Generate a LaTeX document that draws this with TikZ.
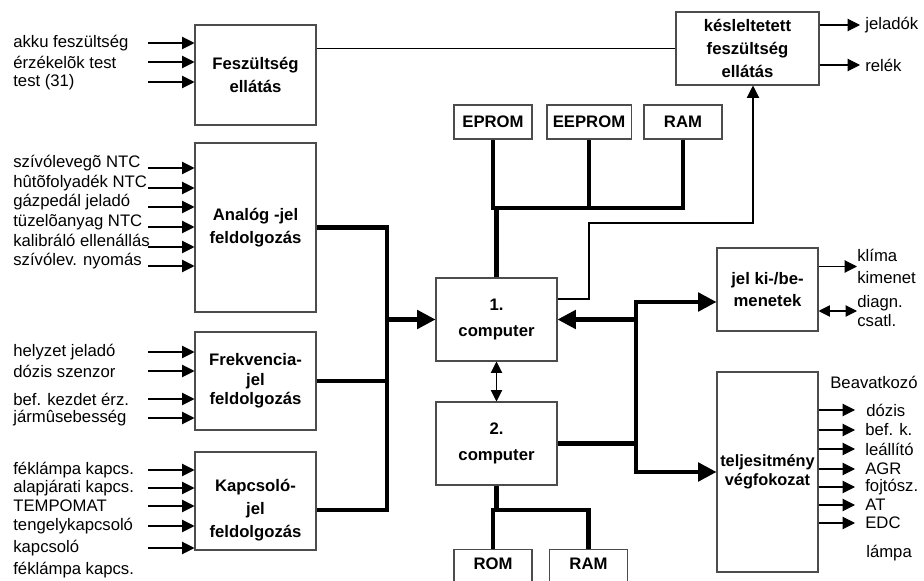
\documentclass[tikz,border=0pt]{standalone}
\usepackage{fontspec}
\setmainfont{Liberation Sans}
\usetikzlibrary{arrows.meta,calc}

\begin{document}
\begin{tikzpicture}[x=0.02cm,y=-0.02cm,
    every node/.style={font=\fontsize{9.5}{11}\selectfont},
    box/.style={draw=black!70,line width=0.6pt,align=center,font=\fontsize{9.5}{13}\selectfont\bfseries},
    membox/.style={box,anchor=north,minimum width=1.56cm,text height=7pt,text depth=14pt,inner ysep=4.5pt},
    lbl/.style={anchor=west,inner sep=0pt,align=left},
    lblb/.style={anchor=base west,inner sep=0pt},
    sig/.style={line width=0.6pt,-{Triangle[length=7pt,width=7pt]}},
    sigboth/.style={line width=0.6pt,{Triangle[length=6.5pt,width=6.5pt]}-{Triangle[length=6.5pt,width=6.5pt]}},
    bus/.style={line width=2.3pt},
    busarrow/.style={line width=2.3pt,-{Triangle[length=10.5pt,width=10.5pt]}}]
    \useasboundingbox (0,0) rectangle (924,581);

    \node[box,minimum width=2.42cm,minimum height=2cm] (fesz) at (255.5,75) {Feszültség\\ellátás};
    \node[box,minimum width=2.42cm,minimum height=3.38cm] (analog) at (255.5,227.5) {Analóg -jel\\feldolgozás};
    \node[box,minimum width=2.42cm,minimum height=1.96cm,font=\fontsize{9.5}{11}\selectfont\bfseries] (frekv) at (255.5,381) {Frekvencia-\\jel\\feldolgozás};
    \node[box,minimum width=2.42cm,minimum height=1.96cm] (kapcs) at (255.5,501) {};
    \node[align=center,font=\fontsize{9.5}{13}\selectfont\bfseries] (kapcstxt) at (255.5,510) {Kapcsoló-\\jel\\feldolgozás};

    \node[box,minimum width=2.42cm,minimum height=1.66cm,font=\fontsize{9.5}{15}\selectfont\bfseries] (comp1) at (496.5,319.5) {1.\\computer};
    \node[box,minimum width=2.42cm,minimum height=1.66cm,font=\fontsize{9.5}{15}\selectfont\bfseries] (comp2) at (496.5,443.5) {2.\\computer};

    \node[box,minimum width=1.56cm,minimum height=0.68cm] (eprom) at (493,122) {EPROM};
    \node[box,minimum width=1.64cm,minimum height=0.68cm] (eeprom) at (589,122) {EEPROM};
    \node[box,minimum width=1.56cm,minimum height=0.68cm] (ram) at (683,122) {RAM};
    \node[membox] (rom) at (493,549) {ROM};
    \node[membox] (ram2) at (588.5,549) {RAM};

    \node[box,minimum width=2.86cm,minimum height=1.46cm] (kesl) at (747.5,48.5) {késleltetett\\feszültség\\ellátás};
    \node[box,minimum width=2.02cm,minimum height=1.66cm] (jelki) at (767.5,289.5) {jel ki-/be-\\menetek};
    \node[box,minimum width=2.02cm,minimum height=4cm,inner xsep=1pt,font=\fontsize{9.3}{11}\selectfont\bfseries] (telj) at (767.5,472) {teljesitmény\\végfokozat};

    % inputs on the left
    \coordinate (tail) at (148,0);
    \node[lbl] (f1) at (13,43) {akku feszültség};
    \node[lbl] (f2) at (13,62) {érzékelõk test};
    \node[lbl] (f3) at (13,82) {test (31)};
    \draw[sig] (tail |- f1.west) -- (fesz.west |- f1.west);
    \draw[sig] (tail |- f2.west) -- (fesz.west |- f2.west);
    \draw[sig] (tail |- f3.west) -- (fesz.west |- f3.west);

    \node[lblb] (a1) at (13,168) {szívólevegõ NTC};
    \node[lblb] (a2) at (13,188) {hûtõfolyadék NTC};
    \node[lblb] (a3) at (13,207) {gázpedál jeladó};
    \node[lblb] (a4) at (13,227) {tüzelõanyag NTC};
    \node[lblb] (a5) at (13,247) {kalibráló ellenállás};
    \node[lblb] (a6) at (13,266) {szívólev. nyomás};
    \draw[sig] (tail |- a1.base) -- (analog.west |- a1.base);
    \draw[sig] (tail |- a2.base) -- (analog.west |- a2.base);
    \draw[sig] (tail |- a3.base) -- (analog.west |- a3.base);
    \draw[sig] (tail |- a4.base) -- (analog.west |- a4.base);
    \draw[sig] (tail |- a5.base) -- (analog.west |- a5.base);
    \draw[sig] (tail |- a6.base) -- (analog.west |- a6.base);

    \node[lbl] (r1) at (13,352) {helyzet jeladó};
    \node[lbl] (r2) at (13,371) {dózis szenzor};
    \node[lbl] (r3) at (13,399) {bef. kezdet érz.};
    \node[lbl] (r4) at (13,418) {jármûsebesség};
    \draw[sig] (tail |- r1.west) -- (frekv.west |- r1.west);
    \draw[sig] (tail |- r2.west) -- (frekv.west |- r2.west);
    \draw[sig] (tail |- r3.west) -- (frekv.west |- r3.west);
    \draw[sig] (tail |- r4.west) -- (frekv.west |- r4.west);

    \node[lbl] (k1) at (13,470) {féklámpa kapcs.};
    \node[lbl] (k2) at (13,488) {alapjárati kapcs.};
    \node[lbl] (k3) at (13,506) {TEMPOMAT};
    \node[lbl] (k4) at (13,526) {tengelykapcsoló};
    \node[lbl] (k5) at (13,548) {kapcsoló};
    \node[lbl] (k6) at (13,570) {féklámpa kapcs.};
    \draw[sig] (tail |- k1.west) -- (kapcs.west |- k1.west);
    \draw[sig] (tail |- k2.west) -- (kapcs.west |- k2.west);
    \draw[sig] (tail |- k3.west) -- (kapcs.west |- k3.west);
    \draw[sig] (tail |- k4.west) -- (kapcs.west |- k4.west);
    \draw[sig] (tail |- k5.west) -- (kapcs.west |- k5.west);

    % bus into computer 1
    \coordinate (lbus) at (387,0);
    \coordinate (kout) at ($(kapcs.east)+(0,9)$);
    \draw[bus] (analog.east) -- (lbus |- analog.east) -- (lbus |- kout) -- (kout);
    \draw[bus] (frekv.east) -- (lbus |- frekv.east);
    \draw[busarrow] (lbus |- comp1.west) -- (comp1.west);

    % memories
    \coordinate (mbus) at (0,208);
    \draw[bus] (eprom.south) -- (eprom.south |- mbus) -- (ram.south |- mbus) -- (ram.south);
    \draw[bus] (eeprom.south) -- (eeprom.south |- mbus);
    \draw[bus] (comp1.north) -- (comp1.north |- mbus);
    \coordinate (rbus) at (0,510);
    \draw[bus] (comp2.south) -- (comp2.south |- rbus);
    \draw[bus] (rom.north) -- (rom.north |- rbus) -- (ram2.north |- rbus) -- (ram2.north);

    \draw[sigboth] (comp1.south) -- (comp2.north);

    % outputs to the right
    \coordinate (rbx) at (636,0);
    \coordinate (jin) at ($(jelki.west)+(0,12.5)$);
    \draw[bus,{Triangle[length=10.5pt,width=10.5pt]}-{Triangle[length=10.5pt,width=10.5pt]}] (jin) -- (rbx |- jin) -- (rbx |- telj.west) -- (telj.west);
    \draw[bus] (comp2.east) -- (rbx |- comp2.east);
    \draw[busarrow] (rbx |- comp1.east) -- (comp1.east);

    % supply lines
    \coordinate (kc) at (589,223);
    \draw[line width=0.6pt] (fesz.east |- kesl.west) -- (kesl.west);
    \draw[sig] ($(comp1.east)+(0,-20.5)$) -| (kc) -| ($(kesl.south)+(5.5,0)$);

    \coordinate (ktip) at (860,0);
    \node[lbl] (jeladok) at (865,25) {jeladók};
    \node[lbl] (relek) at (865,65) {relék};
    \draw[sig] (kesl.east |- jeladok.west) -- (ktip |- jeladok.west);
    \draw[sig] (kesl.east |- relek.west) -- (ktip |- relek.west);

    \node[lbl,font=\fontsize{9.5}{13}\selectfont] (klima) at (857,266.5) {klíma\\kimenet};
    \node[lbl,font=\fontsize{9.5}{10.5}\selectfont] (diagn) at (857,311) {diagn.\\csatl.};
    \draw[sig] (jelki.east |- klima.west) -- (klima.west);
    \draw[sigboth] (jelki.east |- diagn.west) -- (diagn.west);

    \coordinate (btip) at (855,0);
    \node[lbl] (beav) at (830,382) {Beavatkozó};
    \node[lbl] (o1) at (866,410) {dózis};
    \node[lbl] (o2) at (865,430) {bef. k.};
    \node[lbl] (o3) at (865,449) {leállító};
    \node[lbl] (o4) at (865,469) {AGR};
    \node[lbl] (o5) at (865,487) {fojtósz.};
    \node[lbl] (o6) at (865,505) {AT};
    \node[lbl] (o7) at (865,523) {EDC};
    \node[lbl] (o8) at (866,553) {lámpa};
    \draw[sig] (telj.east |- o1.west) -- (btip |- o1.west);
    \draw[sig] (telj.east |- o2.west) -- (btip |- o2.west);
    \draw[sig] (telj.east |- o3.west) -- (btip |- o3.west);
    \draw[sig] (telj.east |- o4.west) -- (btip |- o4.west);
    \draw[sig] (telj.east |- o5.west) -- (btip |- o5.west);
    \draw[sig] (telj.east |- o6.west) -- (btip |- o6.west);
    \draw[sig] (telj.east |- o7.west) -- (btip |- o7.west);
\end{tikzpicture}
\end{document}
